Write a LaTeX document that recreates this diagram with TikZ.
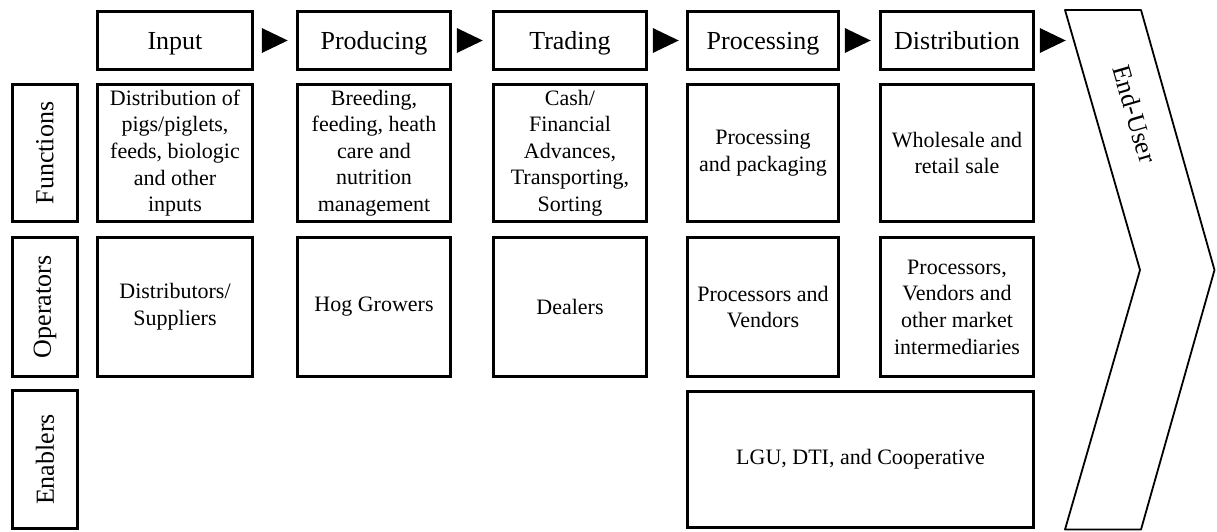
\documentclass[tikz,border=0pt]{standalone}
\usepackage{fontspec}
\setmainfont{Liberation Serif}
\usetikzlibrary{calc}
\begin{document}
\begin{tikzpicture}[x=1pt,y=-1pt,
  box/.style={draw, line width=2.8pt, rectangle, align=center, inner sep=0pt, outer sep=0pt,
    font=\fontsize{22}{26.6}\selectfont},
  head/.style={box, minimum height=58.5, text height=18.5, text depth=0pt, font=\fontsize{26}{30}\selectfont},
  lab/.style={box, rotate=90, minimum height=65.5, font=\fontsize{26}{30}\selectfont},
  tri/.style={fill=black},
  chev/.style={draw, line width=1.8pt, line join=round}]
\useasboundingbox (0,0) rectangle (1217,531);
% header row
\node[head, minimum width=155.5] (hIn)   at (175,40.5) {Input};
\node[head, minimum width=153.5] (hPr)   at (374,40.5) {Producing};
\node[head, minimum width=153.5] (hTr)   at (570,40.5) {Trading};
\node[head, minimum width=151.5] (hPc)   at (763,40.5) {Processing};
\node[head, minimum width=153.5] (hDi)   at (957,40.5) {Distribution};
% row labels
\node[lab, minimum width=137.5] (lFn) at (45,153) {Functions};
\node[lab, minimum width=139.5] (lOp) at (45,307) {Operators};
\node[lab, minimum width=137.5] (lEn) at (45,459.5) {Enablers};
% functions row
\node[box, minimum width=155.5, minimum height=137.5] (fIn) at (175,153)
  {Distribution of\\pigs/piglets,\\feeds, biologic\\and other\\inputs};
\node[box, minimum width=153.5, minimum height=137.5] (fPr) at (374,153)
  {Breeding,\\feeding, heath\\care and\\nutrition\\management};
\node[box, minimum width=153.5, minimum height=137.5] (fTr) at (570,153)
  {Cash/\\Financial\\Advances,\\Transporting,\\Sorting};
\node[box, minimum width=151.5, minimum height=137.5] (fPc) at (763,153)
  {Processing\\and packaging};
\node[box, minimum width=153.5, minimum height=137.5] (fDi) at (957,153)
  {Wholesale and\\retail sale};
% operators row
\node[box, minimum width=155.5, minimum height=139.5] (oIn) at (175,307)
  {Distributors/\\Suppliers};
\node[box, minimum width=153.5, minimum height=139.5] (oPr) at (374,307)
  {Hog Growers};
\node[box, minimum width=153.5, minimum height=139.5] (oTr) at (570,307)
  {Dealers};
\node[box, minimum width=151.5, minimum height=139.5] (oPc) at (763,307)
  {Processors and\\Vendors};
\node[box, minimum width=153.5, minimum height=139.5] (oDi) at (957,307)
  {Processors,\\Vendors and\\other market\\intermediaries};
% enablers row
\node[box, minimum width=346.5, minimum height=136.5] (eAll) at (860.5,459.5)
  {LGU, DTI, and Cooperative};
% flow arrows (triangles)
\fill[tri] ($(hIn.east)+(9,-12.5)$) -- ++(26,12.5) -- ++(-26,12.5) -- cycle;
\fill[tri] ($(hPr.east)+(6,-12.5)$) -- ++(26,12.5) -- ++(-26,12.5) -- cycle;
\fill[tri] ($(hTr.east)+(6,-12.5)$) -- ++(26,12.5) -- ++(-26,12.5) -- cycle;
\fill[tri] ($(hPc.east)+(6,-12.5)$) -- ++(26,12.5) -- ++(-26,12.5) -- cycle;
\fill[tri] ($(hDi.east)+(6,-12.5)$) -- ++(26,12.5) -- ++(-26,12.5) -- cycle;
% End-User chevron
\coordinate (cTL) at (1065,10);
\coordinate (cTR) at (1141,10);
\coordinate (cTip) at (1214.5,270);
\coordinate (cBR) at (1141,529.5);
\coordinate (cBL) at (1065,529.5);
\coordinate (cNotch) at (1140,270);
\draw[chev] (cTL) -- (cTR) -- (cTip) -- (cBR) -- (cBL) -- (cNotch) -- cycle;
\node[rotate=-73.7, font=\fontsize{26}{30}\selectfont, inner sep=0pt] (eu) at (1135,114) {End-User};
\end{tikzpicture}
\end{document}
